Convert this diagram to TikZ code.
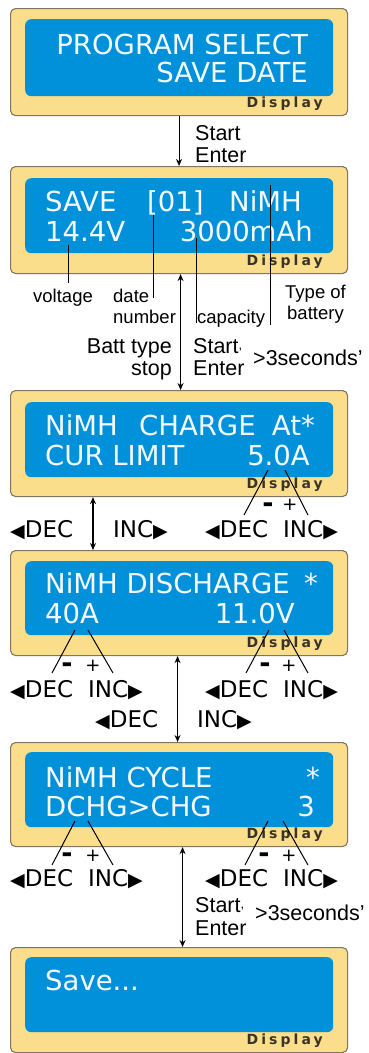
\documentclass[tikz,border=0pt]{standalone}
\usepackage{fontspec}
\setmainfont{Liberation Sans}
\newfontfamily\lcdfont{DejaVu Sans}
\newfontfamily\dispfont[LetterSpace=22]{DejaVu Sans}
\usetikzlibrary{arrows.meta}
\definecolor{framey}{HTML}{FADE8C}
\definecolor{framed}{HTML}{7E7562}
\definecolor{lcdblue}{HTML}{0091DA}
\definecolor{lcdtext}{HTML}{F4FAFF}
\definecolor{dispcol}{HTML}{3A3428}
\newcommand\trileft{\raisebox{0pt}{\fontsize{19}{19}\selectfont ◀}}
\newcommand\triright{\raisebox{0pt}{\fontsize{19}{19}\selectfont ▶}}
\newcommand\smalltick{\raisebox{4pt}{\scalebox{0.6}{,}}}
\tikzset{
  frame/.style={draw=framed, fill=framey, line width=1.1pt, rounded corners=5pt, inner sep=0pt, anchor=north west, minimum width=337pt},
  screen/.style={fill=lcdblue, rounded corners=6pt, inner sep=0pt, anchor=north west, minimum width=308pt},
  lcd/.style={font=\lcdfont\fontsize{27.5}{30}\selectfont, text=lcdtext, inner sep=0pt, anchor=base west},
  lcdr/.style={lcd, anchor=base east},
  disp/.style={font=\dispfont\bfseries\fontsize{14}{14}\selectfont, text=dispcol, inner sep=0pt, anchor=base east},
  lbl/.style={font=\fontsize{18.5}{20}\selectfont, inner sep=0pt, anchor=base west},
  flow/.style={font=\fontsize{21.5}{24}\selectfont, inner sep=0pt, anchor=base west},
  flowr/.style={flow, anchor=base east},
  keyl/.style={font=\lcdfont\fontsize{23}{25}\selectfont, inner sep=0pt, anchor=base west},
  minus/.style={font=\lcdfont\bfseries\fontsize{27}{27}\selectfont, inner sep=0pt},
  plus/.style={font=\lcdfont\fontsize{18}{18}\selectfont, inner sep=0pt},
  lead/.style={line width=1pt, black},
  conn/.style={line width=1.1pt, -{Stealth[length=7pt,width=6pt]}},
  dconn/.style={line width=1.1pt, {Stealth[length=7pt,width=6pt]}-{Stealth[length=7pt,width=6pt]}}
}
\begin{document}
\begin{tikzpicture}[x=1pt, y=-1pt]
\useasboundingbox (0,0) rectangle (368,1053);
% frames and screens
\node[frame, minimum height=107pt] (f1) at (10,8) {};
\node[screen, minimum height=77pt] (s1) at (25,19) {};
\node[frame, minimum height=107pt] (f2) at (10,166) {};
\node[screen, minimum height=75pt] (s2) at (25,178) {};
\node[frame, minimum height=106pt] (f3) at (10,390) {};
\node[screen, minimum height=75pt] (s3) at (25,402) {};
\node[frame, minimum height=105pt] (f4) at (10,550) {};
\node[screen, minimum height=74pt] (s4) at (25,561) {};
\node[frame, minimum height=104pt] (f5) at (10,742) {};
\node[screen, minimum height=75pt] (s5) at (25,752) {};
\node[frame, minimum height=105pt] (f6) at (10,947) {};
\node[screen, minimum height=75pt] (s6) at (25,957) {};
% Display labels
\node[disp] (d1) at (323,107) {Display};
\node[disp] (d2) at (323,265) {Display};
\node[disp] (d3) at (323,488) {Display};
\node[disp] (d4) at (323,647) {Display};
\node[disp] (d5) at (323,838) {Display};
\node[disp] (d6) at (323,1044) {Display};
% screen texts
\node[lcdr] (t1a) at (308,54) {PROGRAM SELECT};
\node[lcdr] (t1b) at (308,82) {SAVE DATE};
\node[lcd] (t2a) at (45,211) {SAVE};
\node[lcd] (t2b) at (147,211) {[01]};
\node[lcd] (t2c) at (229,211) {NiMH};
\node[lcd] (t2d) at (45,241) {14.4V};
\node[lcdr] (t2e) at (313,241) {3000mAh};
\node[lcd] (t3a) at (45,435) {NiMH};
\node[lcd] (t3b) at (139,435) {CHARGE};
\node[lcdr] (t3c) at (315,435) {At*};
\node[lcd] (t3d) at (45,465) {CUR LIMIT};
\node[lcdr] (t3e) at (310,465) {5.0A};
\node[lcd] (t4a) at (45,593) {NiMH DISCHARGE};
\node[lcdr] (t4b) at (318,593) {*};
\node[lcd] (t4c) at (45,623) {40A};
\node[lcdr] (t4d) at (295,623) {11.0V};
\node[lcd] (t5a) at (45,787) {NiMH CYCLE};
\node[lcdr] (t5b) at (320,787) {*};
\node[lcd] (t5c) at (45,816) {DCHG>CHG};
\node[lcdr] (t5d) at (315,816) {3};
\node[lcd] (t6a) at (45,990) {Save...};
% annotations of screen 2
\node[lbl] (lv) at (33,302) {voltage};
\node[lbl] (ld1) at (113,302) {date};
\node[lbl] (ld2) at (113,323) {number};
\node[lbl] (lc) at (197,323) {capacity};
\node[lbl] (lt1) at (285,298) {Type of};
\node[lbl] (lt2) at (287,319) {battery};
\draw[lead] (68,245) -- (68,283);
\draw[lead] (153,215) -- (153,298);
\draw[lead] (196,238) -- (196,323);
\draw[lead] (270,185) -- (270,325);
% connectors
\draw[conn] (f1.south) -- (f2.north);
\node[flow] (a1a) at (195,140) {Start};
\node[flow] (a1b) at (195,162) {Enter};
\coordinate (a2t) at ([xshift=1.5pt]f2.south);
\draw[dconn] (a2t) -- (a2t |- f3.north);
\node[flowr] (a2a) at (172,353) {Batt type};
\node[flowr] (a2b) at (172,375) {stop};
\node[flow] (a2c) at (193,353) {Start\smalltick};
\node[flow] (a2d) at (193,375) {Enter};
\node[flow] (a2e) at (253,365) {>3seconds’};
\coordinate (a3t) at ([xshift=83pt]f3.south west);
\draw[dconn] (a3t) -- (a3t |- f4.north);
\coordinate (a4t) at ([xshift=-1.5pt]f4.south);
\draw[dconn] (a4t) -- (a4t |- f5.north);
\coordinate (a5t) at ([xshift=3.5pt]f5.south);
\draw[dconn] (a5t) -- (a5t |- f6.north);
\node[flow] (a5a) at (195,912) {Start\smalltick};
\node[flow] (a5b) at (195,935) {Enter};
\node[flow] (a5c) at (255,920) {>3seconds’};
% DEC / INC keys, screen 3
\node[keyl] (k3a) at (10,537) {\trileft DEC};
\node[keyl] (k3b) at (113,537) {INC\triright};
\node[keyl] (k3c) at (205,537) {\trileft DEC};
\node[keyl] (k3d) at (283,537) {INC\triright};
\node[minus] (m3) at (268,508) {-};
\node[plus] (p3) at (290,505) {+};
\draw[lead] (268,470) -- (244,515);
\draw[lead] (285,470) -- (308,515);
% screen 4
\node[keyl] (k4a) at (10,697) {\trileft DEC};
\node[keyl] (k4b) at (88,697) {INC\triright};
\node[keyl] (k4c) at (205,697) {\trileft DEC};
\node[keyl] (k4d) at (283,697) {INC\triright};
\node[keyl] (k4e) at (95,727) {\trileft DEC};
\node[keyl] (k4f) at (197,727) {INC\triright};
\node[minus] (m4a) at (67,668) {-};
\node[plus] (p4a) at (93,666) {+};
\node[minus] (m4b) at (265,668) {-};
\node[plus] (p4b) at (289,666) {+};
\draw[lead] (75,630) -- (52,673);
\draw[lead] (88,630) -- (113,673);
\draw[lead] (269,630) -- (246,673);
\draw[lead] (284,630) -- (308,673);
% screen 5
\node[keyl] (k5a) at (10,886) {\trileft DEC};
\node[keyl] (k5b) at (88,886) {INC\triright};
\node[keyl] (k5c) at (205,886) {\trileft DEC};
\node[keyl] (k5d) at (283,886) {INC\triright};
\node[minus] (m5a) at (67,858) {-};
\node[plus] (p5a) at (93,856) {+};
\node[minus] (m5b) at (264,858) {-};
\node[plus] (p5b) at (289,856) {+};
\draw[lead] (75,821) -- (52,865);
\draw[lead] (88,821) -- (113,865);
\draw[lead] (268,821) -- (245,865);
\draw[lead] (283,821) -- (308,865);
\end{tikzpicture}
\end{document}
